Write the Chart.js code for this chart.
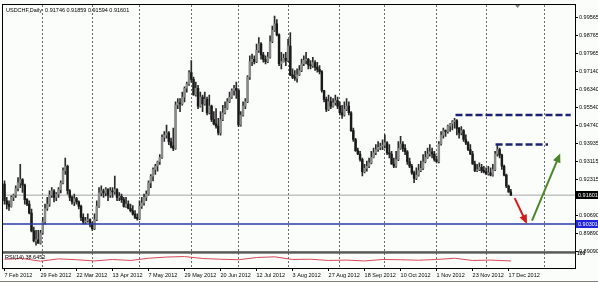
<!DOCTYPE html>
<html>
<head>
<meta charset="utf-8">
<script src="https://cdn.jsdelivr.net/npm/chart.js@4.4.0/dist/chart.umd.min.js"></script>
<style>
  html, body { margin: 0; padding: 0; background: #fff; }
  canvas { display: block; }
</style>
</head>
<body>
<canvas id="myChart" width="598" height="283"></canvas>
<script>
// USDCHF daily, 7 Feb 2012 .. 18 Dec 2012, prices in points (x 0.0001)
const header = 'USDCHF,Daily  0.91746 0.91859 0.91594 0.91601';
const rsiTitle = 'RSI(14) 38.6452';

const tickBars = [0, 16, 32, 48, 64, 80, 96, 112, 128, 144, 160, 176, 192, 208, 224];
const tickLabels = ['7 Feb 2012', '29 Feb 2012', '22 Mar 2012', '13 Apr 2012', '7 May 2012', '29 May 2012',
  '20 Jun 2012', '12 Jul 2012', '3 Aug 2012', '27 Aug 2012', '18 Sep 2012', '10 Oct 2012',
  '1 Nov 2012', '23 Nov 2012', '17 Dec 2012'];
const monthBars = [17, 39, 60, 83, 104, 126, 149, 169, 192, 214, 240];
const priceTicks = [0.99565, 0.98765, 0.97965, 0.97140, 0.96340, 0.95540, 0.94740, 0.93935,
  0.93115, 0.92315, 0.90690, 0.89890, 0.89090];

const opens = [
  9210,9135,9120,9110,9150,9160,9190,9215,9230,9205,9140,9120,9080,9000,8955,8960,
  8945,8990,9040,9100,9120,9160,9180,9150,9165,9185,9215,9270,9290,9180,9150,9130,
  9145,9130,9110,9060,9040,9045,9050,9030,9010,9050,9110,9170,9180,9170,9185,9160,
  9180,9175,9185,9150,9155,9140,9110,9120,9100,9090,9075,9060,9055,9110,9125,9150,
  9165,9215,9245,9275,9290,9310,9330,9420,9430,9440,9400,9380,9370,9565,9575,9570,
  9600,9640,9660,9710,9680,9610,9640,9560,9600,9570,9590,9530,9560,9500,9480,9470,
  9440,9500,9530,9550,9580,9600,9630,9640,9630,9475,9520,9560,9580,9690,9760,9770,
  9760,9810,9840,9790,9770,9760,9780,9850,9900,9930,9880,9750,9760,9775,9765,9830,
  9700,9690,9685,9700,9720,9750,9765,9770,9745,9740,9755,9735,9725,9715,9630,9590,
  9545,9580,9560,9575,9585,9560,9530,9520,9545,9560,9530,9450,9410,9360,9345,9320,
  9265,9280,9290,9305,9330,9350,9365,9375,9380,9385,9395,9350,9345,9300,9290,9320,
  9370,9390,9370,9355,9310,9290,9260,9235,9250,9270,9280,9310,9330,9345,9355,9345,
  9320,9310,9390,9430,9450,9445,9470,9480,9490,9495,9460,9440,9450,9410,9395,9365,
  9345,9300,9270,9275,9285,9270,9265,9255,9260,9250,9275,9345,9365,9340,9290,9250,
  9200,9174.6
];
const highs = [
  9224,9150,9135,9157,9165,9202,9239,9298,9235,9210,9145,9135,9098,9017,9002,9002,
  9002,9061,9120,9150,9179,9194,9185,9172,9194,9224,9283,9327,9295,9185,9157,9165,
  9150,9135,9115,9076,9061,9076,9054,9039,9076,9135,9194,9202,9187,9194,9190,9194,
  9194,9246,9190,9172,9165,9150,9150,9135,9120,9113,9091,9076,9135,9150,9165,9179,
  9224,9253,9283,9298,9313,9342,9431,9446,9475,9446,9416,9461,9579,9594,9594,9623,
  9646,9668,9720,9764,9690,9668,9653,9623,9609,9623,9600,9609,9565,9535,9549,9505,
  9535,9564,9579,9594,9623,9638,9653,9668,9638,9535,9579,9594,9697,9786,9794,9786,
  9838,9868,9845,9801,9786,9801,9875,9919,9964,9949,9885,9801,9794,9801,9860,9890,
  9727,9720,9727,9742,9771,9786,9801,9775,9764,9779,9764,9757,9742,9720,9631,9601,
  9609,9601,9594,9609,9601,9579,9564,9579,9594,9579,9535,9461,9415,9372,9357,9327,
  9298,9313,9327,9357,9372,9387,9401,9394,9409,9431,9401,9387,9357,9327,9357,9401,
  9424,9401,9387,9360,9327,9298,9268,9283,9298,9313,9342,9357,9372,9387,9372,9357,
  9335,9401,9446,9461,9453,9475,9483,9495,9505,9500,9465,9468,9455,9431,9401,9387,
  9357,9313,9298,9305,9298,9290,9283,9290,9283,9298,9357,9387,9372,9345,9295,9255,
  9205,9185.9
];
const lows = [
  9120,9098,9091,9106,9135,9150,9179,9194,9172,9120,9113,9076,8995,8950,8935,8943,
  8940,8985,9030,9091,9110,9150,9130,9135,9150,9170,9210,9253,9165,9135,9120,9113,
  9120,9098,9046,9031,9031,9039,9017,9002,9005,9045,9105,9157,9150,9157,9135,9150,
  9150,9165,9135,9135,9128,9106,9105,9098,9085,9070,9055,9048,9050,9100,9115,9135,
  9160,9194,9224,9253,9268,9298,9325,9401,9416,9387,9372,9360,9365,9549,9535,9564,
  9579,9623,9653,9668,9609,9605,9549,9555,9535,9564,9520,9525,9490,9475,9461,9431,
  9430,9495,9525,9545,9575,9594,9609,9594,9468,9470,9515,9549,9575,9680,9742,9749,
  9755,9801,9771,9757,9749,9755,9775,9845,9895,9875,9742,9727,9757,9742,9760,9697,
  9683,9675,9668,9697,9715,9742,9749,9727,9727,9734,9720,9712,9705,9623,9579,9535,
  9540,9549,9555,9564,9549,9520,9505,9515,9540,9520,9446,9401,9357,9342,9313,9246,
  9260,9268,9283,9300,9327,9342,9357,9364,9364,9372,9342,9327,9298,9283,9285,9315,
  9365,9357,9342,9298,9283,9253,9216,9230,9245,9265,9275,9305,9325,9335,9327,9313,
  9305,9305,9385,9416,9424,9438,9446,9453,9461,9431,9416,9431,9401,9387,9360,9342,
  9298,9265,9265,9270,9261,9260,9253,9250,9246,9245,9270,9335,9327,9276,9246,9194,
  9172,9159.4
];
const closes = [
  9135,9120,9110,9150,9160,9190,9215,9230,9205,9140,9120,9080,9000,8955,8960,8945,
  8990,9040,9100,9120,9160,9180,9150,9165,9185,9215,9270,9290,9180,9150,9130,9145,
  9130,9110,9060,9040,9045,9050,9030,9010,9050,9110,9170,9180,9170,9185,9160,9180,
  9175,9185,9150,9155,9140,9110,9120,9100,9090,9075,9060,9055,9110,9125,9150,9165,
  9215,9245,9275,9290,9310,9330,9420,9430,9440,9400,9380,9370,9565,9575,9570,9600,
  9640,9660,9710,9680,9610,9640,9560,9600,9570,9590,9530,9560,9500,9480,9470,9440,
  9500,9530,9550,9580,9600,9630,9640,9630,9475,9520,9560,9580,9690,9760,9770,9760,
  9810,9840,9790,9770,9760,9780,9850,9900,9930,9880,9750,9760,9775,9765,9830,9700,
  9690,9685,9700,9720,9750,9765,9770,9745,9740,9755,9735,9725,9715,9630,9590,9545,
  9580,9560,9575,9585,9560,9530,9520,9545,9560,9530,9450,9410,9360,9345,9320,9265,
  9280,9290,9305,9330,9350,9365,9375,9380,9385,9395,9350,9345,9300,9290,9320,9370,
  9390,9370,9355,9310,9290,9260,9235,9250,9270,9280,9310,9330,9345,9355,9345,9320,
  9310,9390,9430,9450,9445,9470,9480,9490,9495,9460,9440,9450,9410,9395,9365,9345,
  9300,9270,9275,9285,9270,9265,9255,9260,9250,9275,9345,9365,9340,9290,9250,9200,
  9175,9160.1
];

const rsiBars = [0, 8, 16, 24, 32, 40, 48, 56, 64, 72, 80, 88, 96, 104, 112, 120, 128, 136, 144, 152,
  160, 168, 176, 184, 192, 200, 208, 216, 225];
const rsiValues = [52, 58, 36, 55, 48, 38, 50, 42, 60, 70, 74, 58, 52, 48, 66, 72, 50, 52, 42, 45,
  38, 50, 48, 44, 50, 60, 42, 45, 38];
const rsiTicks = [100, 70, 50, 30, 0];

const bidPrice = 0.91601;
const supportLevel = 0.90301;
const resistHighBars = [200.4, 251.6];
const resistHighLevel = 0.9520;
const resistLowBars = [218.2, 241.5];
const resistLowLevel = 0.9387;
const downArrowBars = [226.7, 231.6];
const downArrowPrices = [0.9147, 0.9043];
const upArrowBars = [234.4, 246.4];
const upArrowPrices = [0.9046, 0.9335];
const shiftBar = 228;

const xMin = -0.67, xMax = 253.5;
const pt = v => v / 10000;
const smallFont = { family: 'Liberation Sans', size: 5.5 };

let wickData = highs.map((h, i) => ({ x: i, y: [pt(lows[i]), pt(h)] }));
let bodyData = opens.map((o, i) => ({ x: i, y: [pt(o), pt(closes[i])] }));
let bodyColors = opens.map((o, i) => closes[i] >= o ? '#8a8a8a' : '#1a1a1a');
let hline = (level) => [{ x: xMin - 5, y: level }, { x: xMax + 5, y: level }];
let seg = (bars, ys) => bars.map((b, i) => ({ x: b, y: ys[i] }));

let mtPlugin = {
  id: 'mt',
  beforeDraw(chart) {
    let c = chart.ctx;
    c.save();
    c.fillStyle = '#fbfdfb';
    c.fillRect(0, 0, chart.width, chart.height);
    c.restore();
  },
  afterDraw(chart) {
    let c = chart.ctx, a = chart.chartArea;
    let y = chart.scales.y, y2 = chart.scales.y2, x = chart.scales.x;
    c.save();
    // arrow heads
    chart.data.datasets.forEach((ds, di) => {
      if (!ds.arrow) return;
      let pts = chart.getDatasetMeta(di).data;
      let p0 = pts[pts.length - 2], p1 = pts[pts.length - 1];
      let ang = Math.atan2(p1.y - p0.y, p1.x - p0.x);
      c.fillStyle = ds.borderColor;
      c.beginPath();
      c.moveTo(p1.x + Math.cos(ang) * 3, p1.y + Math.sin(ang) * 3);
      c.lineTo(p1.x - Math.cos(ang) * 6 - Math.sin(ang) * 4, p1.y - Math.sin(ang) * 6 + Math.cos(ang) * 4);
      c.lineTo(p1.x - Math.cos(ang) * 6 + Math.sin(ang) * 4, p1.y - Math.sin(ang) * 6 - Math.cos(ang) * 4);
      c.closePath();
      c.fill();
    });
    // panel frames
    c.strokeStyle = '#000';
    c.lineWidth = 1;
    c.strokeRect(a.left - 0.5, a.top - 0.5, a.right - a.left + 1, a.bottom - a.top + 1);
    c.fillStyle = '#5a5a5a';
    c.fillRect(a.left, y.bottom - 1, a.right - a.left, 2.5);
    c.strokeStyle = '#808080';
    c.beginPath();
    c.moveTo(0, chart.height - 1.5);
    c.lineTo(chart.width, chart.height - 1.5);
    c.stroke();
    // price tags
    let tag = (v, bg) => {
      let py = Math.round(y.getPixelForValue(v));
      c.fillStyle = bg;
      c.fillRect(a.right + 1, py - 4, chart.width - a.right - 1, 8);
      c.fillStyle = '#fff';
      c.font = '5.5px "Liberation Sans"';
      c.textBaseline = 'middle';
      c.textAlign = 'left';
      c.fillText(v.toFixed(5), a.right + 3, py + 0.5);
    };
    tag(bidPrice, '#000');
    tag(supportLevel, '#1f24d8');
    // texts
    c.fillStyle = '#000';
    c.font = '5.5px "Liberation Sans"';
    c.textBaseline = 'middle';
    c.textAlign = 'left';
    c.fillText(header, a.left + 3, a.top + 5);
    c.fillText(rsiTitle, a.left + 2, y2.top + 5);
    // chart shift marker
    let sx = x.getPixelForValue(shiftBar);
    c.fillStyle = '#808080';
    c.beginPath();
    c.moveTo(sx - 2.5, a.top);
    c.lineTo(sx + 2.5, a.top);
    c.lineTo(sx, a.top + 3);
    c.closePath();
    c.fill();
    c.restore();
  }
};

let ctx = document.getElementById('myChart').getContext('2d');

let myChart = new Chart(ctx, {
  type: 'bar',
  data: {
    datasets: [
      { type: 'line', data: hline(bidPrice), borderColor: '#a4a4a4', borderWidth: 1, pointRadius: 0, order: 20 },
      { data: wickData, backgroundColor: '#2a2a2a', barThickness: 1, grouped: false, order: 11 },
      { data: bodyData, backgroundColor: bodyColors, barThickness: 1.8, minBarLength: 1, grouped: false, order: 10 },
      { type: 'line', data: hline(supportLevel), borderColor: '#2e3aa6', borderWidth: 1.5, pointRadius: 0, order: 5 },
      { type: 'line', data: seg(resistHighBars, [resistHighLevel, resistHighLevel]), borderColor: '#1c2472', borderWidth: 2.5, borderDash: [7, 3], pointRadius: 0, order: 4 },
      { type: 'line', data: seg(resistLowBars, [resistLowLevel, resistLowLevel]), borderColor: '#1c2472', borderWidth: 2.5, borderDash: [7, 3], pointRadius: 0, order: 4 },
      { type: 'line', data: seg(downArrowBars, downArrowPrices), borderColor: '#d41c1c', borderWidth: 2, pointRadius: 0, arrow: true, order: 3 },
      { type: 'line', data: seg(upArrowBars, upArrowPrices), borderColor: '#4a872c', borderWidth: 2, pointRadius: 0, arrow: true, order: 3 },
      { type: 'line', data: seg(rsiBars, rsiValues), yAxisID: 'y2', borderColor: '#d8485a', borderWidth: 1, pointRadius: 0, order: 2 }
    ]
  },
  options: {
    responsive: false,
    animation: false,
    events: [],
    layout: { padding: { left: 3, top: 2, right: 0, bottom: 0 } },
    plugins: { legend: { display: false }, tooltip: { enabled: false } },
    scales: {
      x: {
        type: 'linear', min: xMin, max: xMax, position: 'bottom', offset: false,
        afterBuildTicks: (s) => { s.ticks = tickBars.map(v => ({ value: v })); },
        afterFit: (s) => { s.height = 15; },
        grid: { drawOnChartArea: false, drawTicks: true, tickLength: 3, color: '#000', offset: false },
        border: { display: true, color: '#000' },
        ticks: {
          autoSkip: false, maxRotation: 0, minRotation: 0, align: 'start', padding: 1,
          color: '#000', font: smallFont,
          callback: (v) => tickLabels[tickBars.indexOf(v)] ?? ''
        }
      },
      xm: {
        type: 'linear', min: xMin, max: xMax, position: 'bottom', offset: false,
        afterBuildTicks: (s) => { s.ticks = monthBars.map(v => ({ value: v })); },
        afterFit: (s) => { s.height = 0; },
        ticks: { display: false },
        grid: { color: '#6a6a6a', lineWidth: 1, drawTicks: false, offset: false },
        border: { display: false, dash: [2, 2] }
      },
      y: {
        type: 'linear', position: 'right', stack: 'pane', stackWeight: 250,
        min: 0.8904, max: 1.0014,
        afterBuildTicks: (s) => { s.ticks = priceTicks.map(v => ({ value: v })); },
        afterFit: (s) => { s.width = 23; },
        grid: { drawOnChartArea: false, tickLength: 3, color: '#000' },
        border: { color: '#000' },
        ticks: { padding: 1, color: '#000', font: smallFont, callback: (v) => v.toFixed(5) }
      },
      y2: {
        type: 'linear', position: 'right', stack: 'pane', stackWeight: 16,
        min: -20, max: 110,
        afterBuildTicks: (s) => { s.ticks = rsiTicks.map(v => ({ value: v })); },
        afterFit: (s) => { s.width = 23; },
        grid: {
          drawOnChartArea: true, drawTicks: false,
          color: (c) => (c.tick && [70, 50, 30].includes(c.tick.value)) ? '#7a7a7a' : 'rgba(0,0,0,0)'
        },
        border: { color: '#000', dash: [1, 1] },
        ticks: {
          padding: 2, color: '#000', font: { family: 'Liberation Sans', size: 5, weight: 'bold' },
          callback: (v) => (v === 100 || v === 0) ? String(v) : ''
        }
      }
    }
  },
  plugins: [mtPlugin]
});
</script>
</body>
</html>
